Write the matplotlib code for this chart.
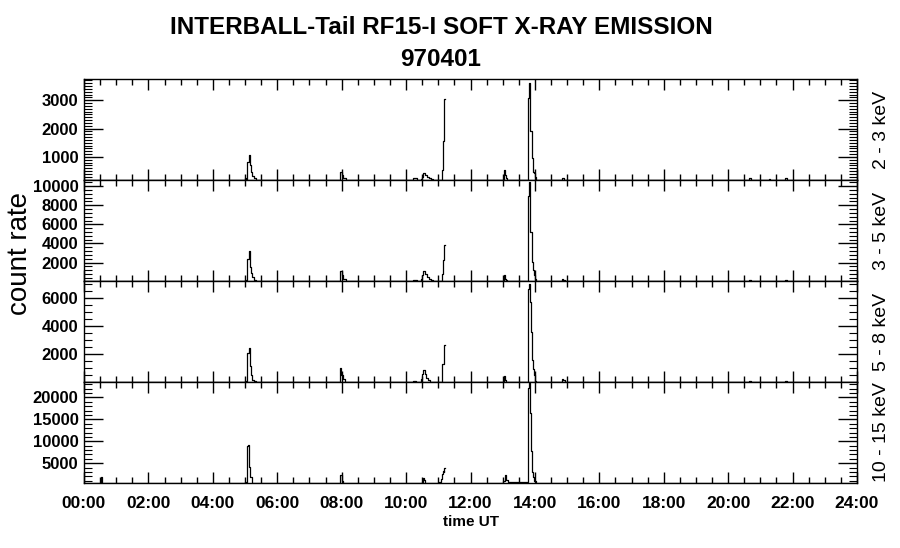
import numpy as np
import matplotlib
matplotlib.use('Agg')
import matplotlib.pyplot as plt
from matplotlib.ticker import MultipleLocator, FuncFormatter

plt.rcParams['font.family'] = ['Liberation Sans', 'DejaVu Sans']

# ──────────────────────────────────────────────
# data: counts vs time UT (hours)
# ──────────────────────────────────────────────
nan = np.nan

t_23 = [0.0, 5.0, 5.03, 5.07, 5.11, 5.16, 5.19, 5.23, 5.29, 5.34,
        7.95, 8.0, 8.05, 8.15,
        10.2, 10.35, 10.45, 10.5, 10.54, 10.6, 10.65, 10.7, 10.78, 10.85,
        11.11, 11.14, 11.17, 11.2, 11.5,
        13.03, 13.06, 13.09, 13.12,
        13.77, 13.80, 13.83, 13.86, 13.90, 13.95, 13.98, 14.01, 14.04,
        14.84, 14.9,
        20.65, 20.72, 21.28, 21.31, 21.78, 21.84, 24.0]
c_23 = [190, 260, 190, 820, 1060, 720, 480, 330, 250, 190,
        456, 364, 250, 190,
        240, 190, 230, 300, 420, 360, 290, 240, 210, 190,
        540, 1580, 3050, nan, 190,
        540, 350, 250, 190,
        250, 3070, 3620, 1900, 960, 480, 420, 300, 190,
        270, 190,
        240, 190, 230, 190, 250, 190, 190]

t_35 = [0.0, 5.0, 5.03, 5.07, 5.11, 5.16, 5.19, 5.23, 5.29, 5.34,
        7.95, 8.0, 8.04, 8.12,
        10.2, 10.35, 10.45, 10.5, 10.54, 10.6, 10.65, 10.7, 10.78, 10.85,
        11.11, 11.14, 11.17, 11.2, 11.5,
        13.03, 13.06, 13.09, 13.12,
        13.77, 13.80, 13.83, 13.86, 13.90, 13.94, 13.98, 14.01, 14.04,
        14.84, 14.88, 14.92,
        20.65, 20.72, 21.78, 21.84, 24.0]
c_35 = [60, 150, 60, 2420, 3190, 1540, 905, 485, 200, 60,
        1085, 660, 315, 60,
        200, 60, 300, 700, 1085, 800, 500, 250, 120, 60,
        800, 2240, 3820, nan, 60,
        660, 300, 150, 60,
        250, 9000, 10400, 5220, 2070, 1190, 650, 300, 60,
        315, 200, 60,
        150, 60, 180, 60, 60]

t_58 = [0.0, 5.0, 5.03, 5.07, 5.11, 5.16, 5.19, 5.23, 5.29, 5.34,
        7.95, 7.99, 8.03, 8.1,
        10.2, 10.3, 10.45, 10.5, 10.54, 10.58, 10.63, 10.68, 10.75,
        11.13, 11.17, 11.2, 11.5,
        13.03, 13.06, 13.1,
        13.77, 13.80, 13.83, 13.85, 13.88, 13.92, 13.95, 13.98, 14.01, 14.04,
        14.84, 14.88, 14.92,
        20.65, 20.72, 21.78, 21.84, 24.0]
c_58 = [10, 60, 10, 2090, 2480, 1140, 490, 180, 60, 10,
        1015, 490, 200, 10,
        60, 10, 200, 600, 900, 600, 290, 130, 10,
        1330, 2630, nan, 10,
        440, 180, 10,
        250, 6700, 7000, 5760, 3600, 1570, 970, 500, 60, 10,
        250, 120, 10,
        80, 10, 100, 10, 10]

t_1015 = [0.0, 0.53, 0.56,
          5.0, 5.03, 5.07, 5.10, 5.12, 5.16, 5.21, 5.26,
          7.95, 7.98, 8.0, 8.03,
          10.5, 10.53, 10.57, 10.6,
          11.03, 11.08, 11.12, 11.15, 11.17, 11.19, 11.21, 11.5,
          13.02, 13.07, 13.11, 13.15,
          13.77, 13.80, 13.83, 13.85, 13.88, 13.92, 13.95, 13.98, 14.02,
          14.88, 14.91, 24.0]
c_1015 = [500, 1800, 500,
          800, 500, 8990, 9060, 4080, 1790, 600, 500,
          2410, 2300, 900, 500,
          800, 1650, 1200, 500,
          640, 1420, 2570, 3330, 3000, 3950, nan, 500,
          1030, 2340, 1200, 750,
          800, 22070, 23300, 16330, 7900, 2940, 1790, 1030, 500,
          600, 500, 500]

bands = ['2 - 3 keV', '3 - 5 keV', '5 - 8 keV', '10 - 15 keV']
series = [(t_23, c_23), (t_35, c_35), (t_58, c_58), (t_1015, c_1015)]
ylims = [(187, 3750), (63, 10650), (10, 7250), (500, 23500)]
ymajor = [1000, 2000, 2000, 5000]
yminor = [100, 400, 500, 1000]

# ──────────────────────────────────────────────
# figure
# ──────────────────────────────────────────────
W, H = 900, 548
fig = plt.figure(figsize=(W / 100, H / 100), dpi=100)

x0, x1 = 84, 857
tops = [79, 180, 281, 382]
ph = 101

for i in range(4):
    ax = fig.add_axes([x0 / W, (H - tops[i] - ph) / H, (x1 - x0) / W, ph / H])
    t, c = series[i]
    ax.plot(t, c, color='black', lw=0.9, drawstyle='steps-post')
    ax.set_xlim(0, 24)
    ax.set_ylim(*ylims[i])

    ax.xaxis.set_major_locator(MultipleLocator(2))
    ax.xaxis.set_minor_locator(MultipleLocator(0.5))
    ax.xaxis.set_major_formatter(FuncFormatter(lambda v, p: f'{int(round(v)):02d}:00'))
    ax.yaxis.set_major_locator(MultipleLocator(ymajor[i]))
    ax.yaxis.set_minor_locator(MultipleLocator(yminor[i]))

    ax.tick_params(axis='x', which='both', direction='in', top=True, bottom=True,
                   labelbottom=(i == 3), width=1.0)
    ax.tick_params(axis='x', which='major', length=8, pad=9, labelsize=12.5)
    ax.tick_params(axis='x', which='minor', length=4)
    ax.tick_params(axis='y', which='both', direction='in', left=True, right=True, width=1.0)
    ax.tick_params(axis='y', which='major', length=14, pad=4, labelsize=12)
    ax.tick_params(axis='y', which='minor', length=6, width=0.8)
    for lab in ax.get_xticklabels() + ax.get_yticklabels():
        lab.set_fontweight('bold')
    for sp in ax.spines.values():
        sp.set_linewidth(1.0)

    fig.text(881 / W, 1 - (tops[i] + ph / 2) / H, bands[i], rotation=90,
             ha='center', va='center', fontsize=14)

    if i == 3:
        ax.set_xlabel('time UT', fontsize=11, fontweight='bold', labelpad=3)

fig.text(441 / W, 1 - 28 / H, 'INTERBALL-Tail RF15-I SOFT X-RAY EMISSION',
         ha='center', va='center', fontsize=17.5, fontweight='bold')
fig.text(441 / W, 1 - 60 / H, '970401', ha='center', va='center',
         fontsize=17.5, fontweight='bold')
fig.text(20 / W, 1 - 254 / H, 'count rate', rotation=90, ha='center', va='center',
         fontsize=20)

fig.savefig('out.png', dpi=100)
